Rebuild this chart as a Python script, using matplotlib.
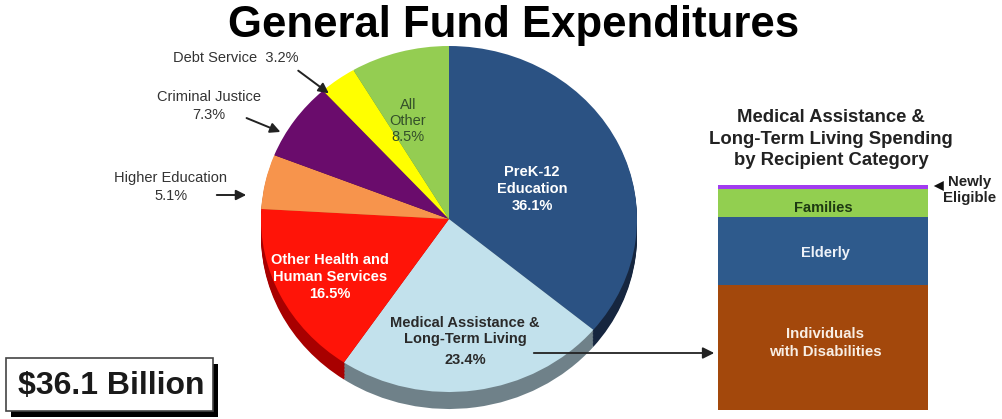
import matplotlib
matplotlib.use("Agg")
import matplotlib.pyplot as plt
from matplotlib.patches import Rectangle

plt.rcParams['font.family'] = ['Liberation Sans', 'DejaVu Sans']

# ---- data ----
pie_labels = ["PreK-12 Education", "Medical Assistance & Long-Term Living",
              "Other Health and Human Services", "Higher Education",
              "Criminal Justice", "Debt Service", "All Other"]
pie_values = [36.1, 23.4, 16.5, 5.1, 7.3, 3.2, 8.5]
pie_colors = ["#2B5283", "#C2E1EC", "#FF1408", "#F7944C", "#6A0C6C", "#FFFF00", "#94CD52"]
rim_colors = ["#16263F", "#6F8189", "#A80000", "#B0602A", "#3E053F", "#A8A800", "#5E8A30"]

bar_labels = ["Individuals\nwith Disabilities", "Elderly", "Families", "Newly Eligible"]
bar_values = [55.6, 30.2, 12.4, 1.8]
bar_colors = ["#A3480C", "#2E5A8C", "#92CF50", "#A23CF0"]

total_label = "$36.1 Billion"

W, H = 1002, 419
fig = plt.figure(figsize=(W / 100, H / 100), dpi=100)
fig.patch.set_facecolor("white")

# ---- pie (elliptical, with a rim) ----
cx, cy, rx, ry = 449, 219, 188, 173
axp = fig.add_axes([0, 0, 1, 1])
rim = 17 / ry
nsteps = 12
for i in range(nsteps, 0, -1):
    off = rim * i / nsteps
    axp.pie(pie_values, colors=rim_colors, startangle=90, counterclock=False,
            radius=1, center=(0, -off), wedgeprops=dict(linewidth=0))
axp.pie(pie_values, colors=pie_colors, startangle=90, counterclock=False,
        radius=1, center=(0, 0), wedgeprops=dict(linewidth=0))
axp.set_aspect('auto')
axp.set_xlim((0 - cx) / rx, (W - cx) / rx)
axp.set_ylim((cy - H) / ry, cy / ry)
axp.axis('off')

# ---- stacked bar ----
bl, br, bt, bb = 718, 928, 185, 410
axb = fig.add_axes([bl / W, (H - bb) / H, (br - bl) / W, (bb - bt) / H])
bottom = 0
for v, c in zip(bar_values, bar_colors):
    axb.bar(0, v, width=1, bottom=bottom, color=c, linewidth=0)
    bottom += v
axb.set_xlim(-0.5, 0.5)
axb.set_ylim(0, bottom)
axb.axis('off')

# ---- overlay (pixel coords) ----
ax = fig.add_axes([0, 0, 1, 1])
ax.set_xlim(0, W)
ax.set_ylim(H, 0)
ax.axis('off')
ax.patch.set_alpha(0)

ax.text(514, 25, "General Fund Expenditures", ha='center', va='center',
        fontsize=31.5, fontweight='bold', color='black')

# pie labels
ax.text(532, 189, "PreK-12\nEducation\n36.1%", ha='center', va='center',
        fontsize=10.5, fontweight='bold', color='white', linespacing=1.25)
ax.text(408, 121, "All\nOther\n8.5%", ha='center', va='center',
        fontsize=10.5, color='#34502A', linespacing=1.2)
ax.text(330, 277, "Other Health and\nHuman Services\n16.5%", ha='center', va='center',
        fontsize=10.5, fontweight='bold', color='white', linespacing=1.25)
ax.text(465, 331, "Medical Assistance &\nLong-Term Living", ha='center', va='center',
        fontsize=10.5, fontweight='bold', color='#2A2A2A', linespacing=1.15)
ax.text(465, 360, "23.4%", ha='center', va='center',
        fontsize=10.5, fontweight='bold', color='#2A2A2A')

# outside labels with arrows
lab_col = '#333333'
ax.text(236, 58, "Debt Service  3.2%", ha='center', va='center', fontsize=10.5, color=lab_col)
ax.annotate('', xy=(331, 95), xytext=(296, 69),
            arrowprops=dict(arrowstyle='-|>', color='#222222', lw=1.4, mutation_scale=15))
ax.text(209, 106, "Criminal Justice\n7.3%", ha='center', va='center', fontsize=10.5,
        color=lab_col, linespacing=1.3)
ax.annotate('', xy=(283, 133), xytext=(244, 117),
            arrowprops=dict(arrowstyle='-|>', color='#222222', lw=1.4, mutation_scale=15))
ax.text(171, 187, "Higher Education\n5.1%", ha='center', va='center', fontsize=10.5,
        color=lab_col, linespacing=1.3)
ax.annotate('', xy=(249, 195), xytext=(214, 195),
            arrowprops=dict(arrowstyle='-|>', color='#222222', lw=1.4, mutation_scale=15))

# connector to bar
ax.annotate('', xy=(717, 353), xytext=(531, 353),
            arrowprops=dict(arrowstyle='-|>', color='#222222', lw=1.3, mutation_scale=17))

# bar title
ax.text(831, 139, "Medical Assistance &\nLong-Term Living Spending\nby Recipient Category",
        ha='center', va='center', fontsize=13.3, fontweight='bold', color='#222222',
        linespacing=1.38)

# bar labels
ax.text(823, 208, "Families", ha='center', va='center', fontsize=10.5,
        fontweight='bold', color='#1E3A12')
ax.text(825, 253, "Elderly", ha='center', va='center', fontsize=10.5,
        fontweight='bold', color='#EEF2F8')
ax.text(825, 343, "Individuals\nwith Disabilities", ha='center', va='center', fontsize=10.8,
        fontweight='bold', color='#F8EEE4', linespacing=1.3)

# newly eligible
ax.annotate('', xy=(931, 186), xytext=(945, 186),
            arrowprops=dict(arrowstyle='-|>', color='#111111', lw=0, mutation_scale=18))
ax.text(970, 190, "Newly\nEligible", ha='center', va='center', fontsize=10.8,
        fontweight='bold', color='#222222', linespacing=1.2)

# total box with shadow
ax.add_patch(Rectangle((11, 364), 207, 53, facecolor='black', edgecolor='none', zorder=2))
ax.add_patch(Rectangle((6, 358), 207, 53, facecolor='white', edgecolor='#444444', lw=1.2, zorder=3))
ax.text(111, 386, total_label, ha='center', va='center', fontsize=23,
        fontweight='bold', color='#1A1A1A', zorder=4)

fig.savefig("out.png", dpi=100)
